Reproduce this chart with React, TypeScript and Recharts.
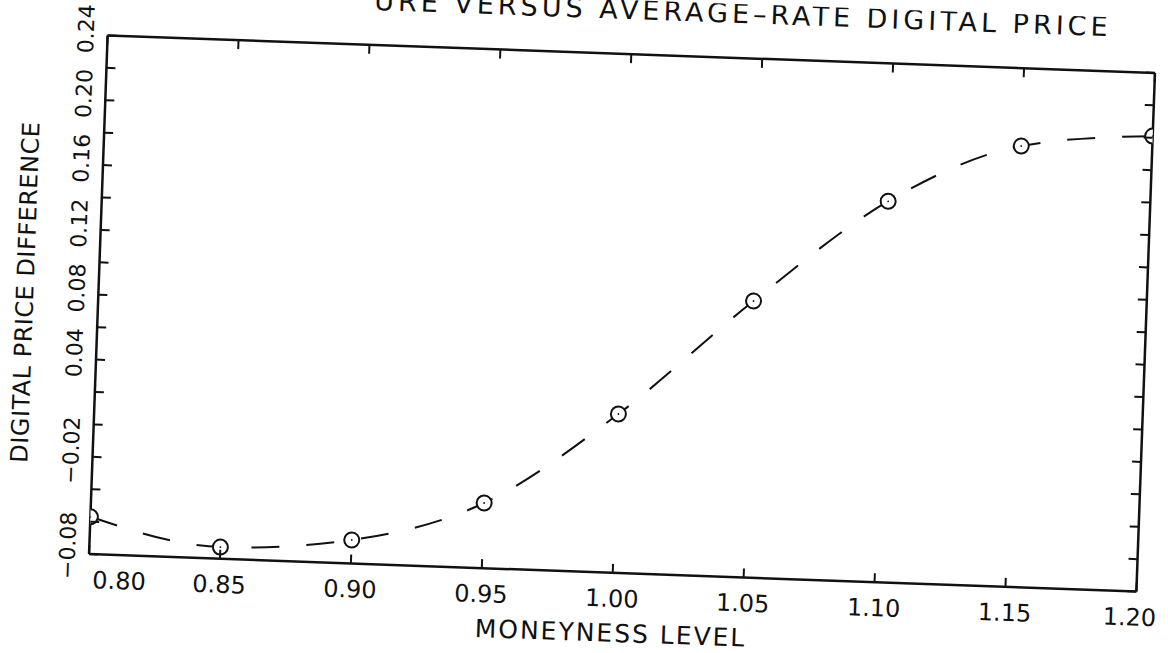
import React from 'react';
import { LineChart, Line, XAxis, YAxis, Label } from 'recharts';

// Moneyness levels (x) and digital price difference (y)
const moneyness = [0.8, 0.85, 0.9, 0.95, 1.0, 1.05, 1.1, 1.15, 1.2];
const priceDiff = [-0.057, -0.0728, -0.0655, -0.0398, 0.018, 0.0906, 0.155, 0.192, 0.201];

const xTicks = [0.8, 0.85, 0.9, 0.95, 1.0, 1.05, 1.1, 1.15, 1.2];
const xTickLabels = ['0.80', '0.85', '0.90', '0.95', '1.00', '1.05', '1.10', '1.15', '1.20'];

const yTicks = [-0.08, -0.06, -0.04, -0.02, 0.0, 0.02, 0.04, 0.06, 0.08, 0.1, 0.12, 0.14, 0.16, 0.18, 0.2, 0.22, 0.24];
const yLabelValues = [-0.08, -0.02, 0.04, 0.08, 0.12, 0.16, 0.2, 0.24];
const yLabelTexts = ['\u22120.08', '\u22120.02', '0.04', '0.08', '0.12', '0.16', '0.20', '0.24'];

const data = moneyness.map((m, i) => ({ m, d: priceDiff[i] }));

const FONT = '"DejaVu Sans", "Liberation Sans", sans-serif';
const INK = '#111';

const LeftTick = (props: any) => {
  const { x, y, payload } = props;
  const idx = yLabelValues.findIndex((v) => Math.abs(v - payload.value) < 1e-9);
  return (
    <g>
      <line x1={x} x2={x + 9} y1={y} y2={y} stroke={INK} strokeWidth={2} />
      {idx >= 0 && (
        <text
          transform={`translate(${x - 14},${idx === 0 ? y - 8 : y - 6}) rotate(-90)`}
          textAnchor="middle"
          fontSize={22}
          fontFamily={FONT}
          fill={INK}
        >
          {yLabelTexts[idx]}
        </text>
      )}
    </g>
  );
};

const RightTick = (props: any) => {
  const { x, y } = props;
  return <line x1={x} x2={x - 9} y1={y} y2={y} stroke={INK} strokeWidth={2} />;
};

const BottomTick = (props: any) => {
  const { x, y, payload, index } = props;
  const idx = xTicks.findIndex((v) => Math.abs(v - payload.value) < 1e-9);
  const shift = index === 0 ? 31 : idx === xTicks.length - 1 ? -6 : 0;
  return (
    <g>
      <line x1={x} x2={x} y1={y} y2={y - 9} stroke={INK} strokeWidth={2} />
      <text x={x + shift} y={y + 34} textAnchor="middle" fontSize={24} fontFamily={FONT} fill={INK}>
        {idx >= 0 ? xTickLabels[idx] : ''}
      </text>
    </g>
  );
};

const TopTick = (props: any) => {
  const { x, y } = props;
  return <line x1={x} x2={x} y1={y} y2={y + 9} stroke={INK} strokeWidth={2} />;
};

const Marker = (props: any) => {
  const { cx, cy, index } = props;
  return (
    <g key={`m-${index}`}>
      <circle cx={cx} cy={cy} r={7.5} fill="#fff" stroke={INK} strokeWidth={2} />
      <circle cx={cx} cy={cy} r={0.9} fill={INK} />
    </g>
  );
};

const axisLine = { stroke: INK, strokeWidth: 2.5 };

export default function App() {
  return (
    <div
      style={{
        position: 'absolute',
        left: 0,
        top: 0,
        width: 1168,
        height: 653,
        overflow: 'hidden',
        background: '#fff',
      }}
    >
      <div style={{ width: 1168, height: 653, transform: 'rotate(2.05deg)', transformOrigin: '622px 313.5px' }}>
        <LineChart width={1168} height={653} data={data} margin={{ top: 44, right: 0, bottom: 20, left: 38 }}>
          <XAxis
            dataKey="m"
            type="number"
            domain={[0.8, 1.2]}
            ticks={xTicks}
            interval={0}
            height={60}
            tickSize={0}
            tickMargin={0}
            tickLine={false}
            axisLine={axisLine}
            tick={<BottomTick />}
            allowDataOverflow
          >
            <Label
              content={(p: any) => {
                const vb = p.viewBox || {};
                return (
                  <text
                    x={vb.x + vb.width / 2}
                    y={vb.y + 69}
                    textAnchor="middle"
                    fontSize={25}
                    letterSpacing={2}
                    fontFamily={FONT}
                    fill={INK}
                  >
                    MONEYNESS LEVEL
                  </text>
                );
              }}
            />
          </XAxis>
          <XAxis
            xAxisId="top"
            dataKey="m"
            orientation="top"
            type="number"
            domain={[0.8, 1.2]}
            ticks={xTicks}
            interval={0}
            height={10}
            tickSize={0}
            tickMargin={0}
            tickLine={false}
            axisLine={axisLine}
            tick={<TopTick />}
            allowDataOverflow
          >
            <Label
              content={(p: any) => {
                const vb = p.viewBox || {};
                const top = vb.y + vb.height;
                return (
                  <text
                    x={vb.x + vb.width - 45}
                    y={top - 35}
                    textAnchor="end"
                    fontSize={27}
                    letterSpacing={4}
                    fontFamily={FONT}
                    fill={INK}
                  >
                    URE VERSUS AVERAGE–RATE DIGITAL PRICE
                  </text>
                );
              }}
            />
          </XAxis>
          <YAxis
            type="number"
            domain={[-0.08, 0.24]}
            ticks={yTicks}
            interval={0}
            width={60}
            tickSize={0}
            tickMargin={0}
            tickLine={false}
            axisLine={axisLine}
            tick={<LeftTick />}
            allowDataOverflow
          >
            <Label
              content={(p: any) => {
                const vb = p.viewBox || {};
                const cx = vb.x + vb.width - 65;
                const cy = vb.y + vb.height / 2;
                return (
                  <text
                    transform={`translate(${cx},${cy}) rotate(-90)`}
                    textAnchor="middle"
                    fontSize={24}
                    letterSpacing={0.5}
                    fontFamily={FONT}
                    fill={INK}
                  >
                    DIGITAL PRICE DIFFERENCE
                  </text>
                );
              }}
            />
          </YAxis>
          <YAxis
            yAxisId="right"
            orientation="right"
            type="number"
            domain={[-0.08, 0.24]}
            ticks={yTicks}
            interval={0}
            width={22}
            tickSize={0}
            tickMargin={0}
            tickLine={false}
            axisLine={axisLine}
            tick={<RightTick />}
            allowDataOverflow
          />
          <Line
            dataKey="d"
            type="monotone"
            stroke={INK}
            strokeWidth={2}
            strokeDasharray="28 27"
            dot={Marker}
            activeDot={false}
            isAnimationActive={false}
          />
        </LineChart>
      </div>
    </div>
  );
}
